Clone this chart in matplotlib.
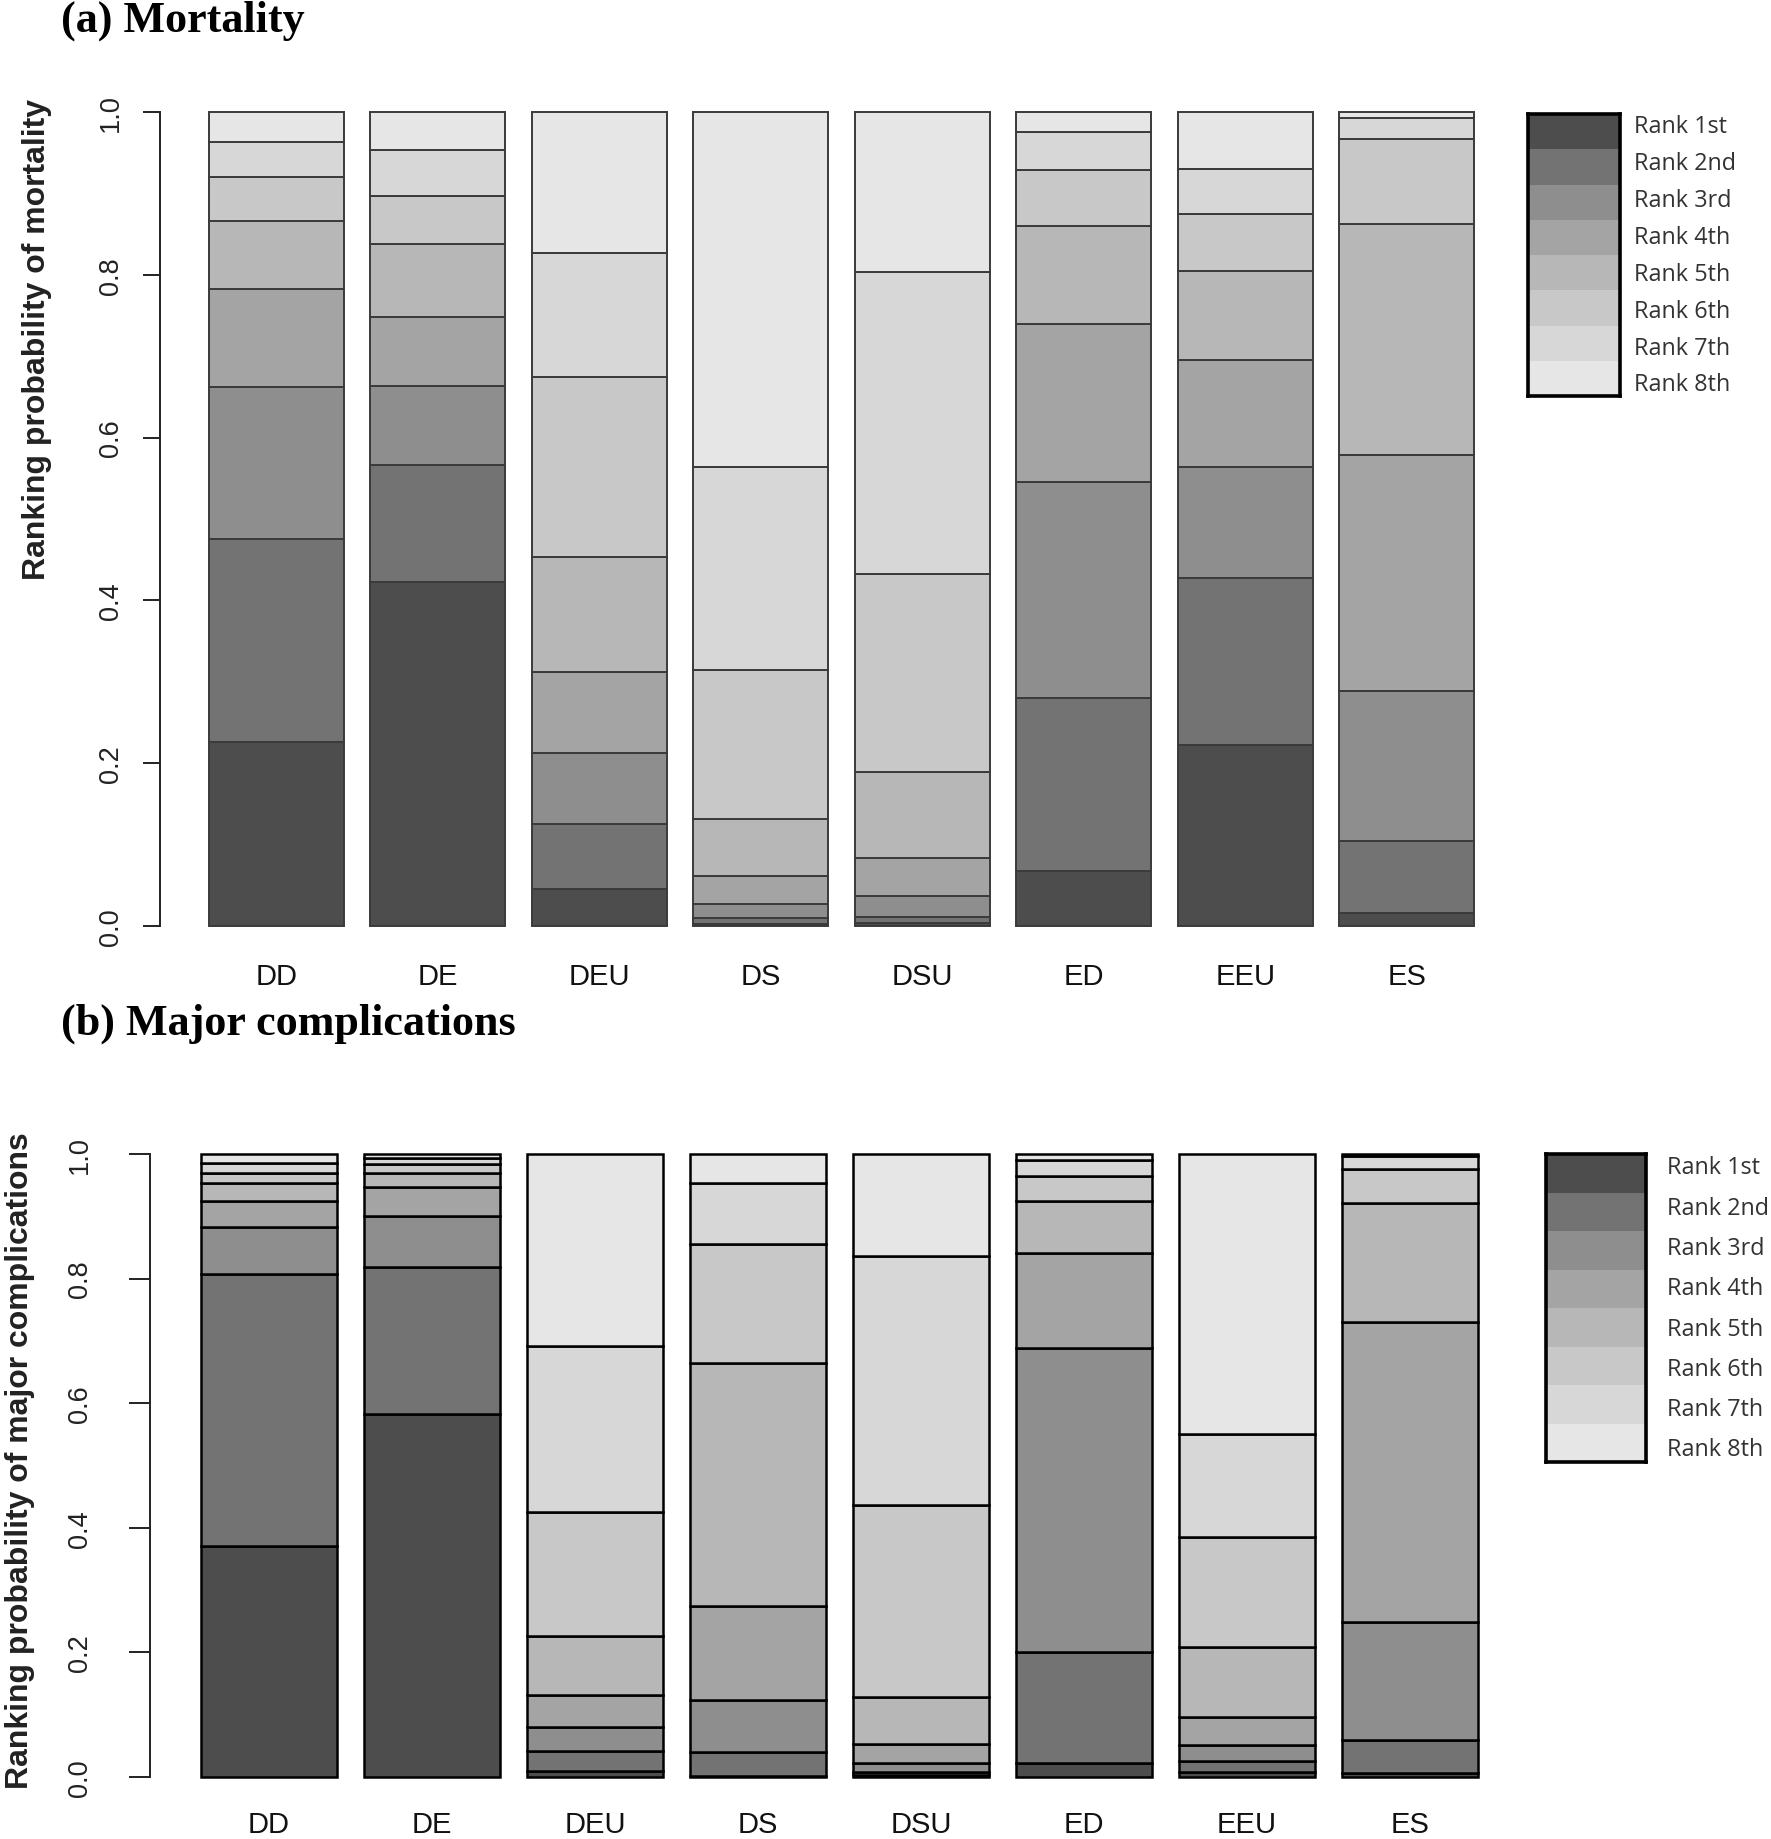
import matplotlib
matplotlib.use("Agg")
import matplotlib.pyplot as plt
import numpy as np

treatments = ["DD", "DE", "DEU", "DS", "DSU", "ED", "EEU", "ES"]
rank_labels = ["Rank 1st", "Rank 2nd", "Rank 3rd", "Rank 4th",
               "Rank 5th", "Rank 6th", "Rank 7th", "Rank 8th"]

# ranking probabilities of mortality, rank 1st .. 8th
mort_dd = [0.226, 0.249, 0.187, 0.121, 0.083, 0.054, 0.043, 0.037]
mort_de = [0.422, 0.144, 0.098, 0.084, 0.090, 0.059, 0.056, 0.047]
mort_deu = [0.045, 0.080, 0.088, 0.099, 0.141, 0.221, 0.153, 0.173]
mort_ds = [0.003, 0.007, 0.017, 0.035, 0.069, 0.183, 0.250, 0.436]
mort_dsu = [0.004, 0.007, 0.026, 0.047, 0.105, 0.243, 0.371, 0.197]
mort_ed = [0.067, 0.213, 0.265, 0.195, 0.120, 0.069, 0.046, 0.025]
mort_eeu = [0.222, 0.206, 0.136, 0.131, 0.110, 0.070, 0.055, 0.070]
mort_es = [0.016, 0.088, 0.185, 0.290, 0.284, 0.104, 0.026, 0.007]

# ranking probabilities of major complications, rank 1st .. 8th
comp_dd = [0.370, 0.437, 0.076, 0.042, 0.029, 0.016, 0.016, 0.014]
comp_de = [0.583, 0.235, 0.083, 0.046, 0.023, 0.014, 0.009, 0.007]
comp_deu = [0.010, 0.031, 0.040, 0.051, 0.095, 0.198, 0.267, 0.308]
comp_ds = [0.002, 0.038, 0.084, 0.151, 0.390, 0.191, 0.097, 0.047]
comp_dsu = [0.003, 0.005, 0.014, 0.031, 0.076, 0.307, 0.400, 0.164]
comp_ed = [0.022, 0.179, 0.487, 0.153, 0.083, 0.041, 0.025, 0.010]
comp_eeu = [0.008, 0.017, 0.027, 0.045, 0.111, 0.178, 0.164, 0.450]
comp_es = [0.007, 0.052, 0.189, 0.482, 0.191, 0.055, 0.020, 0.004]

mortality = [mort_dd, mort_de, mort_deu, mort_ds, mort_dsu, mort_ed, mort_eeu, mort_es]
complications = [comp_dd, comp_de, comp_deu, comp_ds, comp_dsu, comp_ed, comp_eeu, comp_es]

# same greys as R's gray.colors(8)
g = np.linspace(0.3 ** 2.2, 0.9 ** 2.2, 8) ** (1 / 2.2)
rank_colors = [(v, v, v) for v in g]

W, H = 1771, 1840
fig = plt.figure(figsize=(W / 100, H / 100), dpi=100)
sans = "Liberation Sans"


def px_axes(left, top, right, bottom):
    return fig.add_axes([left / W, 1 - bottom / H, (right - left) / W, (bottom - top) / H])


def rank_panel(ax, probs, xlim, edge, lw, tick_len, tick_pad, xpad):
    probs = np.array(probs)
    x = np.arange(len(treatments)) * 1.2
    bottom = np.zeros(len(treatments))
    for r in range(8):
        ax.bar(x, probs[:, r], bottom=bottom, width=1.0, color=rank_colors[r],
               edgecolor=edge, linewidth=lw, clip_on=False)
        bottom += probs[:, r]
    ax.set_xlim(*xlim)
    ax.set_ylim(0, 1)
    for s in ["top", "right", "bottom"]:
        ax.spines[s].set_visible(False)
    ax.spines["left"].set_linewidth(1.4)
    ax.spines["left"].set_color("#222222")
    yt = np.arange(0, 1.01, 0.2)
    ax.set_yticks(yt)
    ax.set_yticklabels([f"{v:.1f}" for v in yt], rotation=90, va="center",
                       fontsize=19.5, family=sans, color="#222222")
    ax.tick_params(axis="y", length=tick_len, width=1.4, pad=tick_pad, color="#222222")
    ax.set_xticks(x)
    ax.set_xticklabels(treatments, fontsize=21, family=sans, color="#111111")
    ax.tick_params(axis="x", length=0, pad=xpad)


def rank_legend(left, top, right, bottom, text_x, fs):
    lax = px_axes(left, top, right, bottom)
    lax.bar(np.zeros(8), np.ones(8), bottom=np.arange(8), width=1.0,
            color=rank_colors, linewidth=0)
    lax.set_xlim(-0.5, 0.5)
    lax.set_ylim(8, 0)
    lax.set_xticks([])
    lax.set_yticks([])
    for s in lax.spines.values():
        s.set_linewidth(2.6)
        s.set_color("black")
    tx = -0.5 + (text_x - left) / (right - left)
    label_y = np.linspace(0.35, 7.67, 8)
    for yy, lab in zip(label_y, rank_labels):
        lax.text(tx, yy, lab, fontsize=fs, family="Open Sans", color="#333333",
                 va="center", ha="left", clip_on=False)


# (a) mortality
ax1 = px_axes(160, 113, 1500, 927)
rank_panel(ax1, mortality, (-0.864, 9.093), "#3a3a3a", 1.4, 12, 14, 26)
fig.text(37 / W, 1 - 340 / H, "Ranking probability of mortality", rotation=90,
         ha="center", va="center", fontsize=23, fontweight="bold", family=sans, color="#222222")
fig.text(61 / W, 1 - 1 / H, "(a) Mortality", ha="left", va="top", fontsize=31.8,
         fontweight="bold", family="Liberation Serif")
rank_legend(1528, 115, 1620, 397, 1634, 16.8)

# (b) major complications
ax2 = px_axes(150, 1155, 1500, 1778)
rank_panel(ax2, complications, (-0.875, 9.062), "black", 1.8, 15, 26, 24)
fig.text(20 / W, 1 - 1461 / H, "Ranking probability of major complications", rotation=90,
         ha="center", va="center", fontsize=23, fontweight="bold", family=sans, color="#222222")
fig.text(61 / W, 1 - 1004 / H, "(b) Major complications", ha="left", va="top", fontsize=31.8,
         fontweight="bold", family="Liberation Serif")
rank_legend(1546, 1155, 1646, 1463, 1667, 16.8)

fig.savefig("out.png", dpi=100, facecolor="white")
